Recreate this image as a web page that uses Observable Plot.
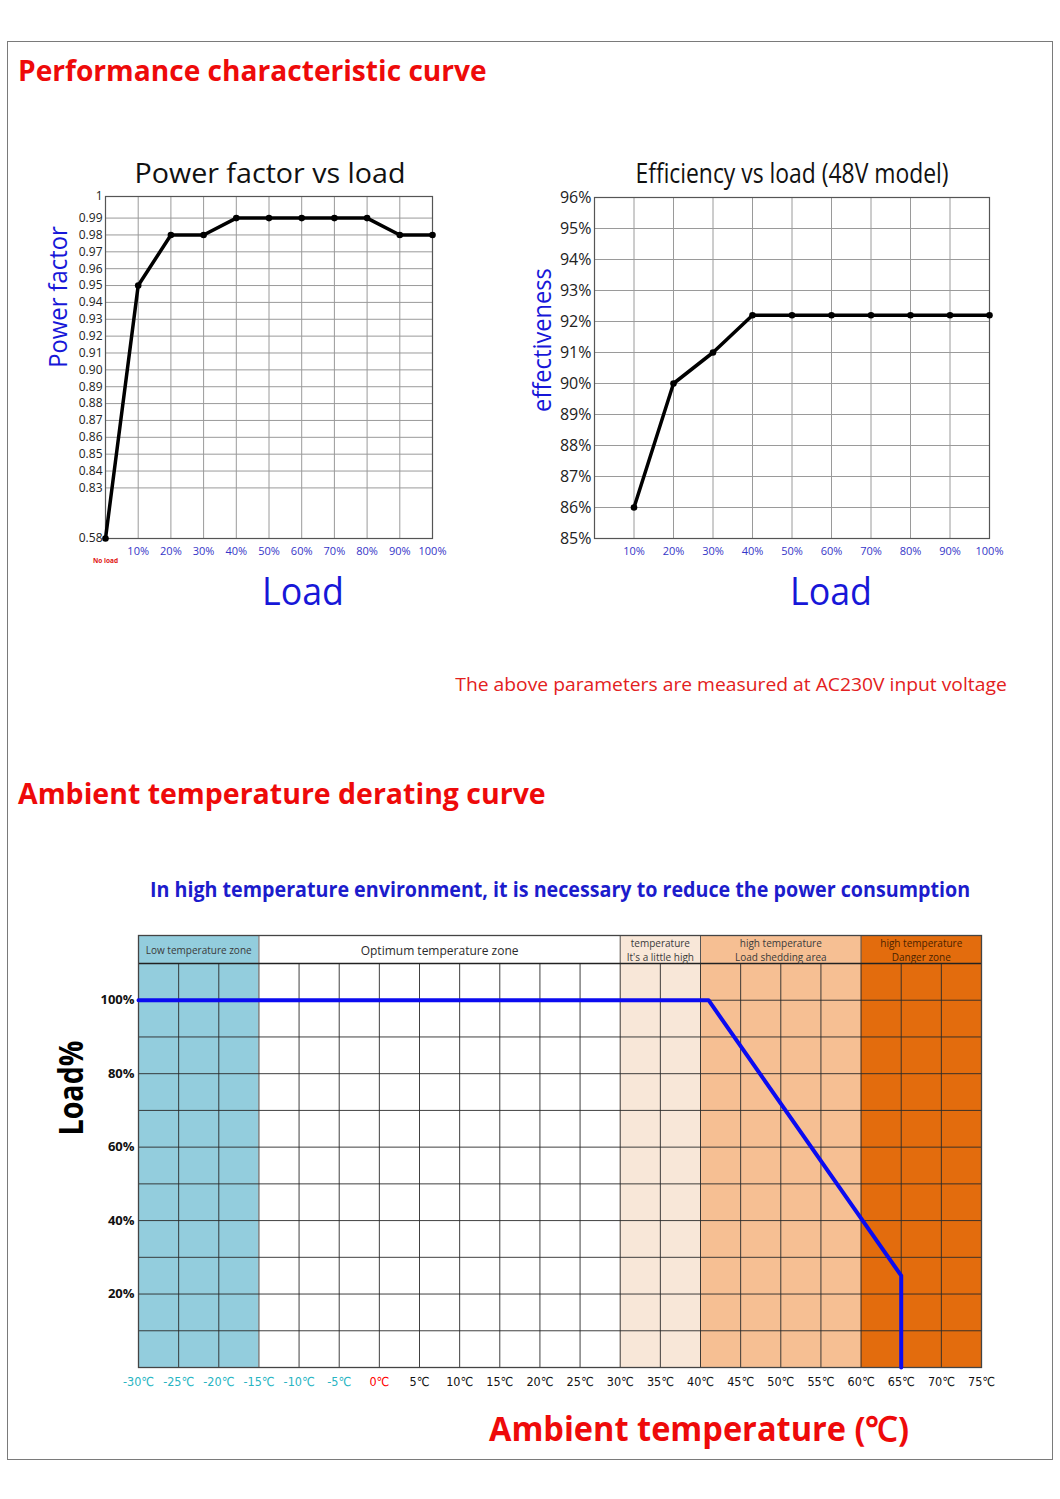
<!DOCTYPE html>
<html><head><meta charset="utf-8">
<script src="https://cdn.jsdelivr.net/npm/d3@7"></script>
<script src="https://cdn.jsdelivr.net/npm/@observablehq/plot@0.6"></script>
<style>
body{margin:0;background:#fff;}
#page{position:relative;width:1060px;height:1499px;overflow:hidden;font-family:"Open Sans",sans-serif;}
.chart{position:absolute;}
.lbl{position:absolute;white-space:nowrap;line-height:1;}
#border{position:absolute;left:7px;top:41px;width:1044px;height:1417px;border:1.5px solid #7a7a7a;}
</style></head><body><div id="page"><div id="border"></div></div>
<script>
// ---------------- data ----------------
const loadLevels = [0, 10, 20, 30, 40, 50, 60, 70, 80, 90, 100];
const powerFactor = [0.58, 0.95, 0.98, 0.98, 0.99, 0.99, 0.99, 0.99, 0.99, 0.98, 0.98];
const pfTicks = [0.58, 0.83, 0.84, 0.85, 0.86, 0.87, 0.88, 0.89, 0.90, 0.91, 0.92, 0.93, 0.94, 0.95, 0.96, 0.97, 0.98, 0.99, 1];
const pfTickLabels = ["0.58", "0.83", "0.84", "0.85", "0.86", "0.87", "0.88", "0.89", "0.90", "0.91", "0.92", "0.93", "0.94", "0.95", "0.96", "0.97", "0.98", "0.99", "1"];
const loadTicks = [10, 20, 30, 40, 50, 60, 70, 80, 90, 100];
const loadTickLabels = ["10%", "20%", "30%", "40%", "50%", "60%", "70%", "80%", "90%", "100%"];

const effLoad = [10, 20, 30, 40, 50, 60, 70, 80, 90, 100];
const efficiency = [86, 90, 91, 92.2, 92.2, 92.2, 92.2, 92.2, 92.2, 92.2];
const effTicks = [85, 86, 87, 88, 89, 90, 91, 92, 93, 94, 95, 96];
const effTickLabels = ["85%", "86%", "87%", "88%", "89%", "90%", "91%", "92%", "93%", "94%", "95%", "96%"];

const temps = [-30, -25, -20, -15, -10, -5, 0, 5, 10, 15, 20, 25, 30, 35, 40, 45, 50, 55, 60, 65, 70, 75];
const tempLabels = ["-30℃", "-25℃", "-20℃", "-15℃", "-10℃", "-5℃", "0℃", "5℃", "10℃", "15℃", "20℃", "25℃", "30℃", "35℃", "40℃", "45℃", "50℃", "55℃", "60℃", "65℃", "70℃", "75℃"];
const derateTemp = [-30, 41, 65, 65];
const derateLoad = [100, 100, 25, 0];
const loadGrid = [10, 20, 30, 40, 50, 60, 70, 80, 90, 100, 110];
const loadPctTicks = [20, 40, 60, 80, 100];
const loadPctLabels = ["20%", "40%", "60%", "80%", "100%"];
const zoneStart = [-30, -15, 30, 40, 60];
const zoneEnd = [-15, 30, 40, 60, 75];
const zoneNames = ["Low temperature zone", "Optimum temperature zone", "temperature\nIt's a little high", "high temperature\nLoad shedding area", "high temperature\nDanger zone"];

// ---------------- styles ----------------
const zoneColors = ["#93cddd", "#ffffff", "#f8e7d8", "#f6bf93", "#e36c0d"];
const zoneTextColors = ["#3a3a3a", "#2a2a2a", "#3a3a3a", "#3a3a3a", "#4a2200"];
const zoneFont = [10, 12, 10, 10, 10];
const RED = "#ee0a0a", BLUE = "#1717d8", TICKBLUE = "#3535c8";
const page = document.getElementById("page");

function place(el, left, top) {
  el.classList.add("chart");
  el.style.left = left + "px"; el.style.top = top + "px";
  page.appendChild(el);
}

// ---------------- chart 1: power factor ----------------
{
  const W = 420, H = 380, mt = 10, mb = 28, ml = 65, mr = 28;
  // broken (non-uniform) axis: value -> grid row
  const row = d3.scaleLinear().domain([0.58, 0.83, 0.99, 1]).range([0, 3, 19, 20.28]);
  const pf = loadLevels.map((x, i) => ({x, y: powerFactor[i]}));
  const chart = Plot.plot({
    width: W, height: H, marginTop: mt, marginBottom: mb, marginLeft: ml, marginRight: mr,
    style: {fontFamily: "Open Sans, sans-serif", background: "transparent", overflow: "visible"},
    x: {domain: [0, 100], label: null, axis: null},
    y: {domain: [0, row(1)], label: null, axis: null},
    marks: [
      Plot.ruleY(pfTicks.filter(d => d > 0.8 && d < 1), {y: d => row(d), stroke: "#9a9a9a", strokeWidth: 1}),
      Plot.ruleX(loadTicks.filter(d => d < 100), {y1: 0, y2: row(1), stroke: "#9a9a9a", strokeWidth: 1}),
      Plot.frame({stroke: "#555", strokeWidth: 1.2}),
      Plot.line(pf, {x: "x", y: d => row(d.y), stroke: "#000", strokeWidth: 3.5}),
      Plot.dot(pf, {x: "x", y: d => row(d.y), r: 3.3, fill: "#000"}),
      Plot.text(pfTicks, {y: d => row(d), frameAnchor: "left", textAnchor: "end", dx: -3, fontSize: 12, fill: "#222", text: (d, i) => pfTickLabels[i]}),
      Plot.text(loadTicks, {x: d => d, frameAnchor: "bottom", dy: 16, fontSize: 11, fill: TICKBLUE, text: (d, i) => loadTickLabels[i]}),
      Plot.text([{x: 0, t: "No load"}], {x: "x", text: "t", frameAnchor: "bottom", dy: 24, fill: "#e01010", fontSize: 6.5, fontWeight: "bold"})
    ]
  });
  place(chart, 40, 186);
}

// ---------------- chart 2: efficiency ----------------
{
  const W = 500, H = 380, mt = 11, mb = 28, ml = 74, mr = 31;
  const ef = effLoad.map((x, i) => ({x, y: efficiency[i]}));
  const chart = Plot.plot({
    width: W, height: H, marginTop: mt, marginBottom: mb, marginLeft: ml, marginRight: mr,
    style: {fontFamily: "Open Sans, sans-serif", background: "transparent", overflow: "visible"},
    x: {domain: [0, 100], label: null, axis: null},
    y: {domain: [85, 96], label: null, axis: null},
    marks: [
      Plot.ruleY(effTicks.filter(d => d > 85 && d < 96), {stroke: "#9a9a9a", strokeWidth: 1}),
      Plot.ruleX(loadTicks.filter(d => d < 100), {stroke: "#9a9a9a", strokeWidth: 1}),
      Plot.frame({stroke: "#555", strokeWidth: 1.2}),
      Plot.line(ef, {x: "x", y: "y", stroke: "#000", strokeWidth: 3.5}),
      Plot.dot(ef, {x: "x", y: "y", r: 3.3, fill: "#000"}),
      Plot.text(effTicks, {y: d => d, frameAnchor: "left", textAnchor: "end", dx: -3, fontSize: 16, fill: "#222", text: (d, i) => effTickLabels[i]}),
      Plot.text(loadTicks, {x: d => d, frameAnchor: "bottom", dy: 16, fontSize: 11, fill: TICKBLUE, text: (d, i) => loadTickLabels[i]})
    ]
  });
  place(chart, 520, 186);
}

// ---------------- chart 3: derating ----------------
{
  const W = 1000, H = 475, mt = 10, mb = 33, ml = 78, mr = 79;
  const pxPerPct = (H - mt - mb - 28) / 110;
  const yTop = 110 + 28 / pxPerPct;
  const zones = zoneStart.map((s, i) => ({x1: s, x2: zoneEnd[i], name: zoneNames[i], fill: zoneColors[i], tc: zoneTextColors[i], fs: zoneFont[i]}));
  const curve = derateTemp.map((t, i) => ({t, l: derateLoad[i]}));
  const tickColor = t => t < 0 ? "#27b4c2" : t === 0 ? "#ff0000" : "#111";
  const chart = Plot.plot({
    width: W, height: H, marginTop: mt, marginBottom: mb, marginLeft: ml, marginRight: mr,
    style: {fontFamily: "Open Sans, sans-serif", background: "transparent", overflow: "visible"},
    x: {domain: [-30, 75], label: null, axis: null},
    y: {domain: [0, yTop], label: null, axis: null},
    marks: [
      Plot.rect(zones, {x1: "x1", x2: "x2", y1: 0, y2: yTop, fill: "fill"}),
      Plot.ruleX(temps.filter(t => t > -30 && t < 75), {y1: 0, y2: 110, stroke: "#2a2a2a", strokeWidth: 0.9}),
      Plot.ruleY(loadGrid, {stroke: "#2a2a2a", strokeWidth: 0.9}),
      Plot.ruleX(zoneStart.slice(1), {y1: 110, y2: yTop, stroke: "#555", strokeWidth: 1}),
      Plot.ruleY([110], {stroke: "#222", strokeWidth: 1.6}),
      Plot.frame({stroke: "#444", strokeWidth: 1.3}),
      Plot.text(zones, {x: d => (d.x1 + d.x2) / 2, y: (110 + yTop) / 2, text: "name", fontSize: "fs", fill: "tc", lineHeight: 1.35}),
      Plot.line(curve, {x: "t", y: "l", stroke: "#0b0bf0", strokeWidth: 4}),
      Plot.text(loadPctTicks, {y: d => d, frameAnchor: "left", textAnchor: "end", dx: -4, fontSize: 13, fontWeight: "bold", fill: "#111", text: (d, i) => loadPctLabels[i]}),
      Plot.text(temps, {x: d => d, frameAnchor: "bottom", dy: 18, text: (d, i) => tempLabels[i], fill: tickColor, fontSize: 12.5, fontWeight: "normal",
        fontFamily: "'Liberation Sans Narrow', 'DejaVu Sans Condensed', 'Open Sans', sans-serif", letterSpacing: "-0.7px"})
    ]
  });
  place(chart, 60, 925);
}

// ---------------- HTML texts ----------------
const texts = [
  {t: "Performance characteristic curve", x: 18, y: 70, w: 469, size: 28, weight: 700, color: RED, anchor: "left"},
  {t: "Power factor vs load", x: 270, y: 172, w: 271, size: 28, weight: 400, color: "#111"},
  {t: "Efficiency vs load (48V model)", x: 792, y: 172, w: 313, size: 28, weight: 400, color: "#111"},
  {t: "Power factor", x: 57, y: 297, w: 142, size: 25, weight: 400, color: BLUE, rot: true},
  {t: "effectiveness", x: 541, y: 340, w: 144, size: 25, weight: 400, color: BLUE, rot: true},
  {t: "Load", x: 303, y: 590, w: 82, size: 38, weight: 400, color: BLUE},
  {t: "Load", x: 831, y: 590, w: 82, size: 38, weight: 400, color: BLUE},
  {t: "The above parameters are measured at AC230V input voltage", x: 731, y: 684, w: 551, size: 19, weight: 400, color: "#e32020"},
  {t: "Ambient temperature derating curve", x: 18, y: 793, w: 528, size: 28, weight: 700, color: RED, anchor: "left"},
  {t: "In high temperature environment, it is necessary to reduce the power consumption", x: 560, y: 889, w: 820, size: 21, weight: 700, color: "#1c1ccc"},
  {t: "Load%", x: 70, y: 1088, w: 95, size: 34, weight: 700, color: "#000", rot: true},
  {t: "Ambient temperature (℃)", x: 699, y: 1428, w: 420, size: 34, weight: 700, color: RED}
];
for (const d of texts) {
  const el = document.createElement("div");
  el.className = "lbl";
  el.textContent = d.t;
  el.style.fontSize = d.size + "px";
  el.style.fontWeight = d.weight;
  el.style.color = d.color;
  el.style.left = d.x + "px";
  el.style.top = d.y + "px";
  page.appendChild(el);
  const s = d.w / el.offsetWidth;
  if (d.anchor === "left") {
    el.style.transformOrigin = "0 50%";
    el.style.transform = `translate(0,-50%) scaleX(${s})`;
  } else if (d.rot) {
    el.style.transform = `translate(-50%,-50%) rotate(-90deg) scaleX(${s})`;
  } else {
    el.style.transform = `translate(-50%,-50%) scaleX(${s})`;
  }
}
</script>
</body></html>
